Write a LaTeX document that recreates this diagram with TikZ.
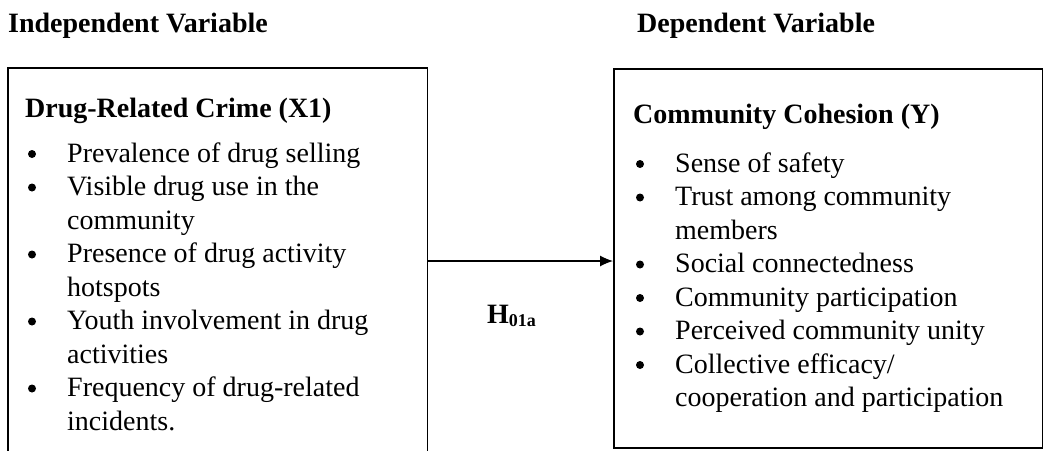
\documentclass[tikz,border=0pt]{standalone}
\usepackage{fontspec}
\setmainfont{Liberation Serif}
\usetikzlibrary{arrows.meta}
\begin{document}
\begin{tikzpicture}[x=1pt,y=-1pt,
  txt/.style={anchor=base west,inner sep=0pt,font=\fontsize{28}{33}\selectfont},
  hd/.style={txt,font=\fontsize{28}{33}\selectfont\bfseries},
  dot/.style={circle,fill=black,inner sep=0pt,minimum size=8pt,yshift=8pt},
  boxline/.style={line width=1.7pt},
  conn/.style={line width=1.1pt,-{Latex[length=13pt,width=11pt]}}]
\useasboundingbox (0,0) rectangle (1043,450);
% headings
\node[hd] (iv) at (8,32) {Independent Variable};
\node[hd] (dv) at (637,32) {Dependent Variable};
% boxes
\node[draw=none,minimum width=419pt,minimum height=400pt,inner sep=0pt,anchor=north west] (L) at (8,68) {};
\draw[boxline] (L.south west) -- (L.north west) -- (L.north east) -- (L.south east);
\node[draw,boxline,minimum width=429pt,minimum height=379pt,inner sep=0pt,anchor=north west] (R) at (613,68) {};
% left box text
\node[hd] (lt) at (25,117) {Drug-Related Crime (X1)};
\node[dot] (lb1) at (32,162) {};
\node[txt] (l1) at (67,162) {Prevalence of drug selling};
\node[dot] (lb2) at (32,195.5) {};
\node[txt] (l2) at (67,195.5) {Visible drug use in the};
\node[txt] (l2b) at (67,229) {community};
\node[dot] (lb3) at (32,262.5) {};
\node[txt] (l3) at (67,262.5) {Presence of drug activity};
\node[txt] (l3b) at (67,296) {hotspots};
\node[dot] (lb4) at (32,329.5) {};
\node[txt] (l4) at (67,329.5) {Youth involvement in drug};
\node[txt] (l4b) at (67,363) {activities};
\node[dot] (lb5) at (32,396.5) {};
\node[txt] (l5) at (67,396.5) {Frequency of drug-related};
\node[txt] (l5b) at (67,430) {incidents.};
% right box text
\node[hd] (rt) at (633,123) {Community Cohesion (Y)};
\node[dot] (rb1) at (640,172) {};
\node[txt] (r1) at (675,172) {Sense of safety};
\node[dot] (rb2) at (640,205.5) {};
\node[txt] (r2) at (675,205.5) {Trust among community};
\node[txt] (r2b) at (675,239) {members};
\node[dot] (rb3) at (640,272.5) {};
\node[txt] (r3) at (675,272.5) {Social connectedness};
\node[dot] (rb4) at (640,306) {};
\node[txt] (r4) at (675,306) {Community participation};
\node[dot] (rb5) at (640,339.5) {};
\node[txt] (r5) at (675,339.5) {Perceived community unity};
\node[dot] (rb6) at (640,373) {};
\node[txt] (r6) at (675,373) {Collective efficacy/};
\node[txt] (r6b) at (675,406.5) {cooperation and participation};
% connector
\coordinate (ay) at (0,261);
\draw[conn] (L.east |- ay) -- (R.west |- ay);
\node[hd] (h) at (487,323) {H\textsubscript{\fontsize{18}{20}\selectfont 01a}};
\end{tikzpicture}
\end{document}
